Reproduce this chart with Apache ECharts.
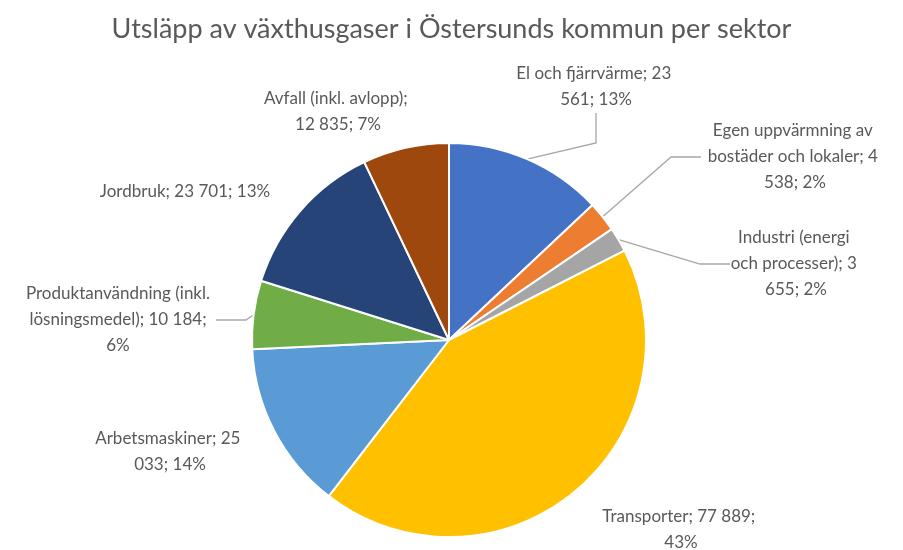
<!DOCTYPE html>
<html>
<head>
    <meta charset="utf-8">
    <script src="https://cdn.jsdelivr.net/npm/echarts@6/dist/echarts.min.js"></script>
    <style>
        html, body { margin: 0; padding: 0; background: #fff; }
        #main { width: 903px; height: 550px; }
    </style>
</head>
<body>
    <div id="main"></div>
    <script>
        var sectors = [
            'El och fjärrvärme',
            'Egen uppvärmning av bostäder och lokaler',
            'Industri (energi och processer)',
            'Transporter',
            'Arbetsmaskiner',
            'Produktanvändning (inkl. lösningsmedel)',
            'Jordbruk',
            'Avfall (inkl. avlopp)'
        ];
        var emissions = [23561, 4538, 3655, 77889, 25033, 10184, 23701, 12835];
        var colors = ['#4472C4', '#ED7D31', '#A5A5A5', '#FFC000', '#5B9BD5', '#70AD47', '#264478', '#9E480E'];

        // label placement: [centerX, centerY, wrap width, leader line]
        var labelPlace = [
            [596, 87, 178, true],
            [795, 157, 188, true],
            [796, 264, 132, true],
            [681, 530, 165, false],
            [170, 452, 165, false],
            [118, 320, 196, true],
            [185, 192, 250, false],
            [338, 112, 160, false]
        ];

        function fmt(v) {
            return String(v).replace(/\B(?=(\d{3})+(?!\d))/g, ' ');
        }

        var chart = echarts.init(document.getElementById('main'));

        chart.setOption({
            color: colors,
            title: {
                text: 'Utsläpp av växthusgaser i Östersunds kommun per sektor',
                left: 'center',
                top: 11,
                textStyle: {
                    fontFamily: 'Lato',
                    fontSize: 27,
                    fontWeight: 'normal',
                    color: '#595959'
                }
            },
            series: [{
                type: 'pie',
                center: [449, 340],
                radius: 197,
                startAngle: 90,
                clockwise: true,
                percentPrecision: 0,
                itemStyle: {
                    borderColor: '#fff',
                    borderWidth: 2
                },
                label: {
                    position: 'outside',
                    fontFamily: 'Lato',
                    fontSize: 17,
                    lineHeight: 26,
                    color: '#595959',
                    align: 'center',
                    overflow: 'break',
                    formatter: function (p) {
                        return p.name + '; ' + fmt(p.value) + '; ' + p.percent + '%';
                    }
                },
                labelLine: {
                    lineStyle: { color: '#A6A6A6', width: 1.3 }
                },
                labelLayout: function (p) {
                    var pl = labelPlace[p.dataIndex];
                    return {
                        x: pl[0],
                        y: pl[1],
                        align: 'center',
                        verticalAlign: 'middle'
                    };
                },
                emphasis: { disabled: true },
                data: sectors.map(function (name, i) {
                    return {
                        name: name,
                        value: emissions[i],
                        label: { width: labelPlace[i][2] },
                        labelLine: { show: labelPlace[i][3] }
                    };
                })
            }]
        });
    </script>
</body>
</html>
